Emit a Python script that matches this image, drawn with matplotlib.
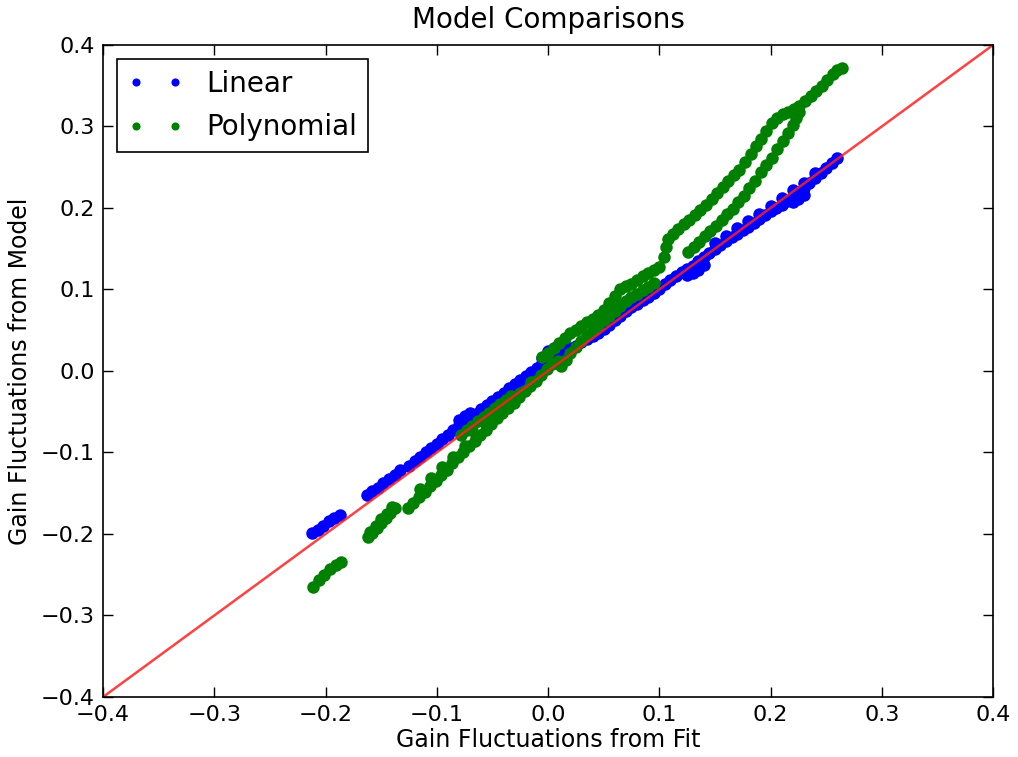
import matplotlib
matplotlib.use("Agg")
import matplotlib.pyplot as plt

# Linear model values
lin_x = [-0.212, -0.207, -0.202, -0.197, -0.192, -0.187,
         -0.163, -0.158, -0.153, -0.148, -0.143, -0.138, -0.133,
         -0.125, -0.120, -0.115, -0.110, -0.105, -0.100, -0.095, -0.090, -0.085, -0.080,
         -0.075, -0.070, -0.065, -0.060, -0.055, -0.050, -0.045, -0.040, -0.035, -0.030,
         -0.025, -0.020, -0.015, -0.010, -0.005, 0.000, 0.005, 0.010, 0.015, 0.020,
         0.025, 0.030, 0.035, 0.040, 0.045, 0.050, 0.055, 0.060, 0.065, 0.070,
         0.075, 0.080, 0.085, 0.090, 0.095, 0.100, 0.105, 0.110, 0.115, 0.120,
         0.125, 0.130, 0.135, 0.140, 0.145, 0.150, 0.155, 0.160, 0.165, 0.170,
         0.175, 0.180, 0.185, 0.190, 0.195, 0.200, 0.205, 0.210, 0.215, 0.220,
         0.225, 0.230, 0.235, 0.240, 0.245, 0.250, 0.255, 0.260,
         0.125, 0.130, 0.135, 0.140, 0.220, 0.225, 0.230,
         0.150, 0.160, 0.170, 0.180, 0.190, 0.200, 0.210, 0.220, 0.230, 0.240,
         -0.005, 0.000, 0.005, 0.010, -0.080, -0.075, -0.070]
lin_y = [-0.199, -0.195, -0.190, -0.184, -0.180, -0.177,
         -0.152, -0.147, -0.143, -0.138, -0.133, -0.128, -0.122,
         -0.116, -0.110, -0.105, -0.099, -0.094, -0.089, -0.084, -0.079, -0.073, -0.066,
         -0.061, -0.057, -0.053, -0.047, -0.042, -0.037, -0.032, -0.027, -0.021, -0.016,
         -0.011, -0.006, -0.001, 0.004, 0.010, 0.016, 0.021, 0.024, 0.026, 0.028,
         0.031, 0.035, 0.039, 0.043, 0.047, 0.051, 0.056, 0.062, 0.068, 0.073,
         0.078, 0.082, 0.087, 0.091, 0.096, 0.101, 0.107, 0.112, 0.117, 0.121,
         0.125, 0.129, 0.135, 0.140, 0.145, 0.150, 0.155, 0.159, 0.164, 0.168,
         0.173, 0.177, 0.182, 0.186, 0.191, 0.196, 0.200, 0.204, 0.208, 0.213,
         0.220, 0.225, 0.231, 0.237, 0.243, 0.249, 0.255, 0.261,
         0.118, 0.120, 0.124, 0.130, 0.207, 0.211, 0.216,
         0.157, 0.166, 0.175, 0.184, 0.193, 0.203, 0.212, 0.222, 0.231, 0.243,
         0.016, 0.024, 0.028, 0.030, -0.060, -0.055, -0.052]

# Polynomial model values
poly_x = [-0.211, -0.206, -0.201, -0.196, -0.191, -0.186,
          -0.162, -0.158, -0.154, -0.150, -0.146, -0.142, -0.138,
          -0.160, -0.155, -0.150, -0.145, -0.140,
          -0.126, -0.121, -0.116, -0.111, -0.106, -0.101, -0.096, -0.091, -0.086, -0.081,
          -0.076, -0.071, -0.066, -0.061, -0.056, -0.051, -0.046, -0.041, -0.036, -0.031,
          -0.026, -0.021, -0.016, -0.011, -0.006, -0.001, 0.004, 0.009,
          -0.115, -0.105, -0.095, -0.085, -0.075, -0.065, -0.055, -0.045, -0.035, -0.025, -0.015,
          -0.078, -0.073, -0.068, -0.063, -0.058, -0.053, -0.048, -0.043, -0.038, -0.033,
          -0.005, 0.000, 0.005, 0.010, 0.015, 0.020, 0.025, 0.030, 0.035, 0.040,
          0.045, 0.050, 0.055, 0.060, 0.065, 0.070, 0.075, 0.080, 0.085, 0.090,
          0.095, 0.100, 0.104, 0.106, 0.108, 0.112, 0.117, 0.122, 0.127, 0.132,
          0.137, 0.142, 0.147, 0.152, 0.157, 0.162, 0.167, 0.172, 0.177, 0.182,
          0.187, 0.191, 0.196, 0.201, 0.206, 0.211, 0.216, 0.221, 0.226, 0.231,
          0.236, 0.241, 0.246, 0.251, 0.256, 0.260, 0.264,
          0.012, 0.016, 0.020, 0.025, 0.030, 0.035, 0.040, 0.045, 0.050, 0.055,
          0.060, 0.065, 0.070, 0.075, 0.080, 0.085, 0.090, 0.095,
          0.126, 0.131, 0.136, 0.141, 0.146, 0.151, 0.156, 0.161, 0.166, 0.171,
          0.176, 0.181, 0.186, 0.191, 0.196, 0.201, 0.206, 0.211, 0.216, 0.220,
          0.223, 0.226]
poly_y = [-0.265, -0.257, -0.250, -0.243, -0.238, -0.234,
          -0.204, -0.199, -0.193, -0.187, -0.180, -0.174, -0.168,
          -0.197, -0.190, -0.182, -0.175, -0.167,
          -0.168, -0.162, -0.155, -0.148, -0.141, -0.135, -0.128, -0.121, -0.113, -0.106,
          -0.099, -0.092, -0.086, -0.079, -0.072, -0.065, -0.058, -0.052, -0.045, -0.039,
          -0.032, -0.025, -0.019, -0.012, -0.005, 0.002, 0.008, 0.012,
          -0.145, -0.131, -0.118, -0.105, -0.092, -0.079, -0.066, -0.053, -0.040, -0.027, -0.014,
          -0.078, -0.073, -0.067, -0.062, -0.056, -0.051, -0.046, -0.041, -0.036, -0.031,
          0.017, 0.022, 0.028, 0.034, 0.040, 0.046, 0.050, 0.055, 0.060, 0.064,
          0.069, 0.075, 0.083, 0.092, 0.101, 0.104, 0.107, 0.112, 0.116, 0.120,
          0.124, 0.128, 0.140, 0.152, 0.162, 0.168, 0.174, 0.180, 0.185, 0.191,
          0.197, 0.204, 0.211, 0.218, 0.226, 0.233, 0.240, 0.247, 0.256, 0.266,
          0.276, 0.285, 0.295, 0.304, 0.311, 0.315, 0.318, 0.321, 0.325, 0.331,
          0.337, 0.343, 0.350, 0.357, 0.364, 0.369, 0.372,
          0.006, 0.014, 0.022, 0.030, 0.037, 0.044, 0.050, 0.056, 0.062, 0.068,
          0.074, 0.080, 0.086, 0.091, 0.095, 0.099, 0.103, 0.108,
          0.146, 0.152, 0.158, 0.165, 0.172, 0.178, 0.185, 0.192, 0.199, 0.207,
          0.215, 0.224, 0.233, 0.244, 0.253, 0.261, 0.272, 0.282, 0.292, 0.302,
          0.310, 0.318]

ref_line = [-0.4, 0.4]
ticks = [-0.4, -0.3, -0.2, -0.1, 0.0, 0.1, 0.2, 0.3, 0.4]
tick_labels = ["\u22120.4", "\u22120.3", "\u22120.2", "\u22120.1", "0.0",
               "0.1", "0.2", "0.3", "0.4"]

fig = plt.figure(figsize=(10.18, 7.57), dpi=100)
ax = fig.add_axes([0.1012, 0.0793, 0.8743, 0.8613])

ax.plot(lin_x, lin_y, "o", color="#0000ff", ms=9, mew=0, label="Linear")
ax.plot(poly_x, poly_y, "o", color="#008000", ms=9, mew=0, label="Polynomial")
ax.plot(ref_line, ref_line, "-", color="#ff2020", lw=1.8, alpha=0.85)

ax.set_xlim(-0.4, 0.4)
ax.set_ylim(-0.4, 0.4)
ax.set_xticks(ticks)
ax.set_yticks(ticks)
ax.set_xticklabels(tick_labels)
ax.set_yticklabels(tick_labels)
ax.tick_params(direction="in", length=7, width=1, labelsize=16, pad=6,
               top=True, right=True)
for s in ax.spines.values():
    s.set_linewidth(1.2)

ax.set_title("Model Comparisons", fontsize=20, pad=12)
ax.set_xlabel("Gain Fluctuations from Fit", fontsize=17, labelpad=2)
ax.set_ylabel("Gain Fluctuations from Model", fontsize=17, labelpad=6)

leg = ax.legend(loc="upper left", numpoints=2, fontsize=20, markerscale=0.65,
                fancybox=False, framealpha=1, edgecolor="black",
                handlelength=2.0, handletextpad=0.8, borderpad=0.4,
                labelspacing=0.55)
leg.get_frame().set_linewidth(1.2)

fig.savefig("out.png", dpi=100)
